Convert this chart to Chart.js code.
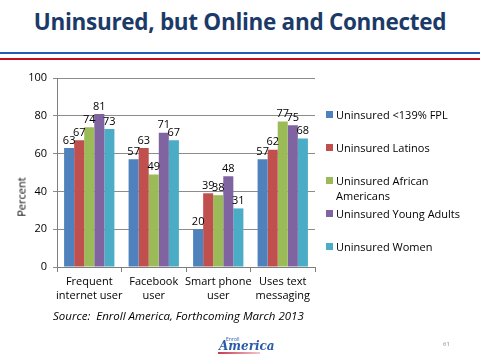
<!DOCTYPE html>
<html>
<head>
<meta charset="utf-8">
<script src="https://cdn.jsdelivr.net/npm/chart.js@4/dist/chart.umd.min.js"></script>
<style>
  body { margin: 0; background: #fff; font-family: "Open Sans", sans-serif; }
  #page { position: relative; width: 480px; height: 360px; overflow: hidden; }
  #title { position: absolute; left: 0; width: 480px; top: 6px; text-align: center;
           font: bold 22.5px "Open Sans", sans-serif; color: #1c3a68; letter-spacing: -0.3px; }
  .rule { position: absolute; left: 0; width: 480px; height: 2px; }
  #box { position: absolute; left: 0; top: 60px; width: 480px; height: 250px; }
  #ytitle { position: absolute; left: 21px; top: 197px; font: normal 11px "Open Sans", sans-serif; color: #000;
            transform: translate(-50%, -50%) rotate(-90deg); white-space: nowrap; }
  #legend { position: absolute; left: 326px; top: 0; font-size: 11px; color: #000; }
  .item { position: absolute; left: 0; white-space: nowrap; line-height: 15px; }
  .item i { position: absolute; left: 0; top: 4px; width: 7px; height: 7px; }
  .item span { position: absolute; left: 10px; top: 0; }
  #source { position: absolute; left: 53px; top: 308px; font: italic 11.5px "Open Sans", sans-serif; color: #000; }
  #logo { position: absolute; left: 218px; top: 336px; width: 44px; height: 20px; }
  #logo .e { position: absolute; left: 8px; top: 0; font: 5px "Open Sans", sans-serif; color: #2a5aa8; }
  #logo .a { position: absolute; left: 1px; top: 3px; font: italic bold 12px "DejaVu Serif", serif; color: #2a5aa8; }
  #logo .s { position: absolute; left: 0; top: 16px; width: 42px; height: 2px; background: linear-gradient(90deg, #c63a4a, #f3c6cc); }
  #pnum { position: absolute; left: 443px; top: 340px; font-size: 6px; color: #8a8a8a; }
</style>
</head>
<body>
<div id="page">
  <div id="title">Uninsured, but Online and Connected</div>
  <div class="rule" style="top:52px;background:#1f5db0"></div>
  <div class="rule" style="top:58px;background:#c0101c"></div>
  <div id="box"><canvas id="myChart"></canvas></div>
  <div id="ytitle">Percent</div>
  <div id="legend"></div>
  <div id="source">Source:&nbsp; Enroll America, Forthcoming March 2013</div>
  <div id="logo"><span class="e">Enroll</span><span class="a">America</span><span class="s"></span></div>
  <div id="pnum">61</div>
</div>
<script>
var categories = [['Frequent', 'internet user'], ['Facebook', 'user'], ['Smart phone', 'user'], ['Uses text', 'messaging']];
var seriesNames = ['Uninsured <139% FPL', 'Uninsured Latinos', 'Uninsured African Americans', 'Uninsured Young Adults', 'Uninsured Women'];
var lowIncome = [63, 57, 20, 57];
var latinos = [67, 63, 39, 62];
var africanAmericans = [74, 49, 38, 77];
var youngAdults = [81, 71, 48, 75];
var women = [73, 67, 31, 68];
var yTicks = [0, 20, 40, 60, 80, 100];

var colors = ['#4f81bd', '#c0504d', '#9bbb59', '#8064a2', '#4bacc6'];
var values = [lowIncome, latinos, africanAmericans, youngAdults, women];

// value labels above each bar
var barLabels = {
    id: 'barLabels',
    afterDatasetsDraw: function (chart) {
        var ctx = chart.ctx;
        ctx.save();
        ctx.font = '11px "Open Sans", sans-serif';
        ctx.fillStyle = '#000';
        ctx.textAlign = 'center';
        ctx.textBaseline = 'bottom';
        chart.data.datasets.forEach(function (ds, i) {
            chart.getDatasetMeta(i).data.forEach(function (bar, j) {
                ctx.fillText(ds.data[j], bar.x, bar.y - 2);
            });
        });
        ctx.restore();
    }
};

var ctx = document.getElementById('myChart').getContext('2d');
var myChart = new Chart(ctx, {
    type: 'bar',
    data: {
        labels: categories,
        datasets: values.map(function (v, i) {
            return {
                label: seriesNames[i],
                data: v,
                backgroundColor: colors[i],
                borderWidth: 0,
                categoryPercentage: 0.78,
                barPercentage: 1
            };
        })
    },
    options: {
        responsive: true,
        maintainAspectRatio: false,
        animation: false,
        layout: { padding: { left: 0, right: 165, top: 18, bottom: 0 } },
        plugins: { legend: { display: false }, tooltip: { enabled: false } },
        scales: {
            x: {
                afterFit: function (s) { s.height = 43; },
                grid: { offset: true, drawOnChartArea: false, tickLength: 5, color: '#7f7f7f' },
                border: { color: '#7f7f7f' },
                ticks: { color: '#000', padding: 2, autoSkip: false, maxRotation: 0,
                         font: { family: 'Open Sans', size: 11, lineHeight: 1.35 } }
            },
            y: {
                min: 0,
                max: 100,
                afterFit: function (s) { s.width = 57; },
                afterBuildTicks: function (s) { s.ticks = yTicks.map(function (t) { return { value: t }; }); },
                grid: { color: '#8c8c8c', tickLength: 4 },
                border: { color: '#7f7f7f' },
                ticks: { color: '#000', padding: 6, font: { family: 'Open Sans', size: 11 } }
            }
        }
    },
    plugins: [barLabels]
});

// legend laid out like the slide
var legendTops = [107, 140, 173, 206, 239];
var legend = document.getElementById('legend');
myChart.data.datasets.forEach(function (ds, i) {
    var d = document.createElement('div');
    d.className = 'item';
    d.style.top = legendTops[i] + 'px';
    var txt = ds.label === 'Uninsured African Americans' ? 'Uninsured African<br>Americans' : ds.label;
    d.innerHTML = '<i style="background:' + ds.backgroundColor + '"></i><span>' + txt + '</span>';
    legend.appendChild(d);
});
</script>
</body>
</html>
